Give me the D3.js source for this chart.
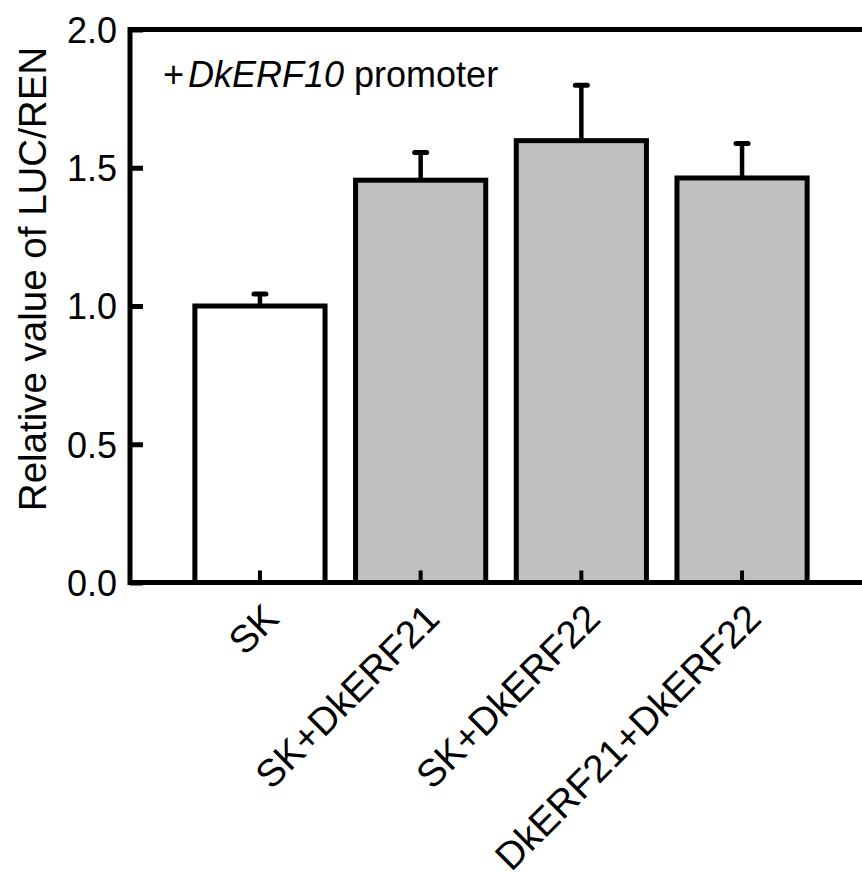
<!DOCTYPE html>
<html>
<head>
<meta charset="utf-8">
<script src="https://cdn.jsdelivr.net/npm/d3@7"></script>
<style>
  html, body { margin: 0; padding: 0; background: #fff; }
  svg { display: block; }
  text { font-family: Arial, "Liberation Sans", sans-serif; fill: #000; }
</style>
</head>
<body>
<div id="chart"></div>
<script>
// data
var categories = ['SK', 'SK+DkERF21', 'SK+DkERF22', 'DkERF21+DkERF22'];
var values = [1.00, 1.455, 1.598, 1.463];
var errors = [0.043, 0.10, 0.20, 0.125];
var fills = ['#ffffff', '#c0c0c0', '#c0c0c0', '#c0c0c0'];
var yTicks = [0, 0.5, 1.0, 1.5, 2.0];

(function drawChart() {
  var W = 862, H = 873;
  var pLeft = 130, pTop = 29.5, pBottom = 582.5, pRight = 900;
  var FS = 36;

  var svg = d3.select('#chart').append('svg')
    .attr('width', W).attr('height', H);

  var x = d3.scaleBand()
    .domain(categories)
    .range([179.6, 822.4])
    .paddingInner(0.19)
    .paddingOuter(0.095);

  var y = d3.scaleLinear().domain([0, 2]).range([pBottom, pTop]);

  var rows = categories.map(function (c, i) {
    return { cat: c, v: values[i], e: errors[i], fill: fills[i] };
  });
  var cx = function (d) { return x(d.cat) + x.bandwidth() / 2; };

  /* bars */
  svg.selectAll('rect.bar').data(rows).enter().append('rect')
    .attr('class', 'bar')
    .attr('x', function (d) { return x(d.cat); })
    .attr('y', function (d) { return y(d.v); })
    .attr('width', x.bandwidth())
    .attr('height', function (d) { return y(0) - y(d.v); })
    .attr('fill', function (d) { return d.fill; })
    .attr('stroke', '#000').attr('stroke-width', 5);

  /* error bars: upper half only */
  var eb = svg.selectAll('g.err').data(rows).enter().append('g').attr('class', 'err');
  eb.append('line')
    .attr('x1', cx).attr('x2', cx)
    .attr('y1', function (d) { return y(d.v); })
    .attr('y2', function (d) { return y(d.v + d.e); })
    .attr('stroke', '#000').attr('stroke-width', 4.5);
  eb.append('line')
    .attr('x1', function (d) { return cx(d) - 6; })
    .attr('x2', function (d) { return cx(d) + 6; })
    .attr('y1', function (d) { return y(d.v + d.e); })
    .attr('y2', function (d) { return y(d.v + d.e); })
    .attr('stroke', '#000').attr('stroke-width', 5)
    .attr('stroke-linecap', 'round');

  /* frame (right side falls outside the picture) */
  svg.append('rect')
    .attr('x', pLeft).attr('y', pTop)
    .attr('width', pRight - pLeft).attr('height', pBottom - pTop)
    .attr('fill', 'none').attr('stroke', '#000').attr('stroke-width', 5);

  /* y axis */
  var yAxis = svg.append('g')
    .attr('transform', 'translate(' + pLeft + ',0)')
    .call(d3.axisLeft(y).tickValues(yTicks).tickFormat(d3.format('.1f'))
      .tickSizeInner(-13).tickSizeOuter(0).tickPadding(13));
  yAxis.select('.domain').remove();
  yAxis.selectAll('line').attr('stroke', '#000').attr('stroke-width', 5);
  yAxis.selectAll('text')
    .style('font-family', 'Arial, "Liberation Sans", sans-serif')
    .attr('font-size', FS).attr('dy', '0.36em');

  /* x axis */
  var xAxis = svg.append('g')
    .attr('transform', 'translate(0,' + pBottom + ')')
    .call(d3.axisBottom(x).tickSizeInner(-12).tickSizeOuter(0).tickPadding(0));
  xAxis.select('.domain').remove();
  xAxis.selectAll('line').attr('stroke', '#000').attr('stroke-width', 4);
  xAxis.selectAll('text')
    .style('font-family', 'Arial, "Liberation Sans", sans-serif')
    .attr('font-size', 38.5)
    .attr('text-anchor', 'end')
    .attr('y', 0).attr('dy', 0)
    .attr('transform', 'translate(21,38) rotate(-45)');

  /* y label */
  svg.append('text')
    .attr('transform', 'translate(46,279) rotate(-90)')
    .attr('text-anchor', 'middle')
    .attr('font-size', 38.5)
    .text('Relative value of LUC/REN');

  /* annotation */
  var note = svg.append('text').attr('x', 163).attr('y', 87).attr('font-size', FS);
  note.append('tspan').text('+');
  note.append('tspan').attr('font-style', 'italic').attr('dx', 4).text('DkERF10');
  note.append('tspan').text(' promoter');
}());
</script>
</body>
</html>
